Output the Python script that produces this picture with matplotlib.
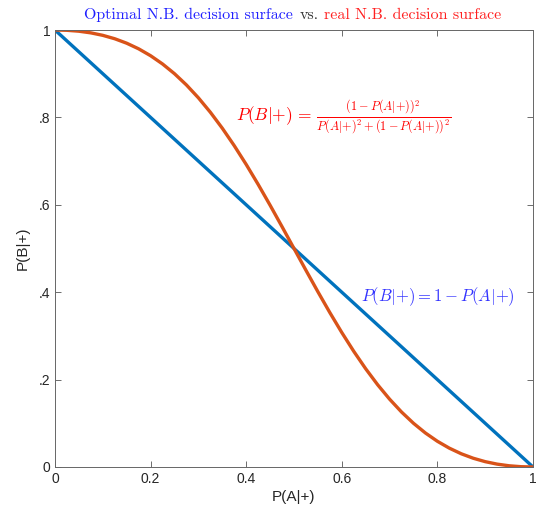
import numpy as np
import matplotlib.pyplot as plt

plt.rcParams['font.family'] = ['Liberation Sans', 'DejaVu Sans']
plt.rcParams['mathtext.fontset'] = 'cm'
plt.rcParams['axes.unicode_minus'] = False

# Data
pa = [0.0, 0.025, 0.05, 0.075, 0.1, 0.125, 0.15, 0.175, 0.2, 0.225, 0.25,
      0.275, 0.3, 0.325, 0.35, 0.375, 0.4, 0.425, 0.45, 0.475, 0.5,
      0.525, 0.55, 0.575, 0.6, 0.625, 0.65, 0.675, 0.7, 0.725, 0.75,
      0.775, 0.8, 0.825, 0.85, 0.875, 0.9, 0.925, 0.95, 0.975, 1.0]
optimal = [1.0, 0.975, 0.95, 0.925, 0.9, 0.875, 0.85, 0.825, 0.8, 0.775, 0.75,
           0.725, 0.7, 0.675, 0.65, 0.625, 0.6, 0.575, 0.55, 0.525, 0.5,
           0.475, 0.45, 0.425, 0.4, 0.375, 0.35, 0.325, 0.3, 0.275, 0.25,
           0.225, 0.2, 0.175, 0.15, 0.125, 0.1, 0.075, 0.05, 0.025, 0.0]
real = [1.0, 0.99934, 0.99724, 0.99347, 0.9878, 0.98, 0.9698, 0.95694, 0.94118,
        0.92226, 0.9, 0.87422, 0.84483, 0.8118, 0.77523, 0.73529, 0.69231,
        0.6467, 0.59901, 0.54988, 0.5, 0.45012, 0.40099, 0.3533, 0.30769,
        0.26471, 0.22477, 0.1882, 0.15517, 0.12578, 0.1, 0.07774, 0.05882,
        0.04306, 0.0302, 0.02, 0.0122, 0.00653, 0.00276, 0.00066, 0.0]
xticks = [0, 0.2, 0.4, 0.6, 0.8, 1]
xticklabels = ['0', '0.2', '0.4', '0.6', '0.8', '1']
yticks = [0, 0.2, 0.4, 0.6, 0.8, 1]
yticklabels = ['0', '.2', '.4', '.6', '.8', '1']

blue = '#0072BD'
orange = '#D95319'
axcol = '#262626'

fig = plt.figure(figsize=(5.36, 5.13), dpi=100)
ax = fig.add_axes([0.1026, 0.0897, 0.8918, 0.8518])
ax.plot(pa, optimal, color=blue, lw=2.4)
ax.plot(pa, real, color=orange, lw=2.4)
ax.set_xlim(0, 1)
ax.set_ylim(0, 1)
ax.set_xticks(xticks, xticklabels)
ax.set_yticks(yticks, yticklabels)
ax.tick_params(direction='in', top=True, right=True, length=4, width=0.6,
               colors='#555555', labelcolor=axcol, labelsize=10)
for s in ax.spines.values():
    s.set_color('#666666')
    s.set_linewidth(0.7)
ax.set_xlabel('P(A|+)', fontsize=11, color=axcol, labelpad=3)
ax.set_ylabel('P(B|+)', fontsize=11, color=axcol, labelpad=6)

ax.text(0.379, 0.80,
        r'$P(B|{+})\,=\,\frac{(1-P(A|{+}))^2}{P(A|{+})^2+(1-P(A|{+}))^2}$',
        color='red', fontsize=12.5, va='center', ha='left')
ax.text(0.640, 0.39, r'$P(B|{+}) = 1 - P(A|{+})$',
        color='#3333FF', fontsize=12, va='center', ha='left')

# multi-coloured title
parts = [('Optimal N.B. decision surface', '#2020FF'),
         ('vs.', '#333333'),
         ('real N.B. decision surface', '#FF2020')]
renderer = fig.canvas.get_renderer()
texts = []
widths = []
for s, c in parts:
    t = fig.text(0, 0, s, color=c, fontsize=11.5, family='cmr10', va='baseline')
    widths.append(t.get_window_extent(renderer).width)
    texts.append(t)
gap = 6
total = sum(widths) + gap * (len(widths) - 1)
cx = (0.1026 + 0.8918 / 2) * fig.bbox.width
x0 = cx - total / 2 - 1
for t, w in zip(texts, widths):
    t.set_position((x0 / fig.bbox.width, 0.963))
    x0 += w + gap

fig.savefig('out.png', dpi=100)
